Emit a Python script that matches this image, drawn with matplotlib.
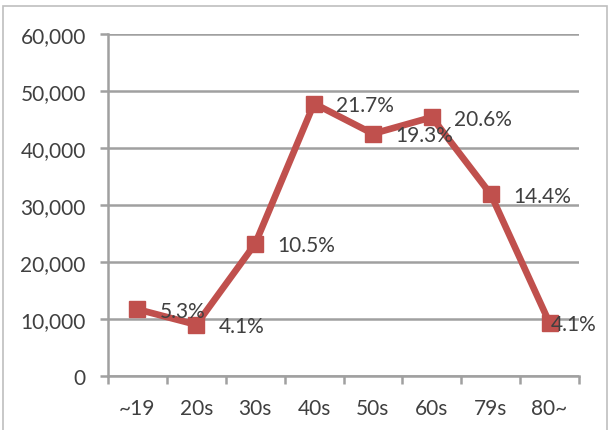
import matplotlib
matplotlib.use("Agg")
import matplotlib.pyplot as plt
from matplotlib.patches import Rectangle
from matplotlib.ticker import FuncFormatter, FixedLocator

categories = ["~19", "20s", "30s", "40s", "50s", "60s", "79s", "80~"]
values = [11700, 9000, 23200, 47800, 42500, 45400, 31900, 9300]
pct_labels = ["5.3%", "4.1%", "10.5%", "21.7%", "19.3%", "20.6%", "14.4%", "4.1%"]

plt.rcParams['font.family'] = ['Lato', 'DejaVu Sans']
W, H = 609, 431
fig = plt.figure(figsize=(W / 100, H / 100), dpi=100)
ax = fig.add_axes([108 / W, 1 - 377 / H, (579 - 108) / W, (377 - 35) / H])

grey = "#A0A0A0"
txt = "#404040"
red = "#C0504D"
fs = 15

x = list(range(len(categories)))
ax.plot(x, values, color=red, lw=4.8, marker="s", ms=12, mfc=red, mec=red,
        zorder=3, clip_on=False)

offsets = [16, 16, 16, 16, 16, 16, 16, 1]
for xi, v, lab, off in zip(x, values, pct_labels, offsets):
    ax.annotate(lab, (xi, v), xytext=(off, -1), textcoords="offset points",
                ha="left", va="center", fontsize=fs, color=txt, zorder=4)

ax.set_xlim(-0.5, len(categories) - 0.5)
ax.set_ylim(0, 60000)
ax.set_yticks(range(0, 60001, 10000))
ax.yaxis.set_major_formatter(FuncFormatter(lambda v, p: f"{int(v):,}"))
ax.set_xticks(x)
ax.set_xticklabels(categories)
ax.xaxis.set_minor_locator(FixedLocator([i - 0.5 for i in range(len(categories) + 1)]))

ax.grid(axis="y", color=grey, lw=1.8)
ax.set_axisbelow(True)
for s in ["top", "right"]:
    ax.spines[s].set_visible(False)
for s in ["left", "bottom"]:
    ax.spines[s].set_color(grey)
    ax.spines[s].set_linewidth(1.8)

ax.tick_params(axis="y", length=6, width=1.8, color=grey, labelsize=fs,
               labelcolor=txt, pad=10)
ax.tick_params(axis="x", which="major", length=0, labelsize=fs, labelcolor=txt, pad=16)
ax.tick_params(axis="x", which="minor", length=6, width=1.8, color=grey)

fig.patches.append(Rectangle((3 / W, -0.05), (607 - 3) / W, 1.05 - 7 / H,
                             transform=fig.transFigure, fill=False,
                             edgecolor="#BFBFBF", lw=1.2))

fig.savefig("out.png", dpi=100)
